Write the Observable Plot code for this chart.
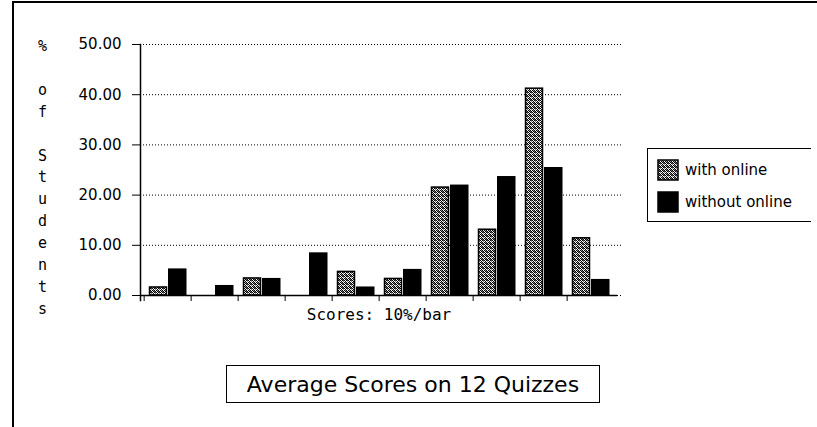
<!DOCTYPE html>
<html><head><meta charset="utf-8">
<script src="https://cdn.jsdelivr.net/npm/d3@7"></script>
<script src="https://cdn.jsdelivr.net/npm/@observablehq/plot@0.6"></script>
<style>
html,body{margin:0;padding:0;background:#fff;overflow:hidden;}
#wrap{position:relative;width:817px;height:427px;overflow:hidden;font-family:"DejaVu Sans",sans-serif;color:#000;}
#ftop{position:absolute;left:12px;top:1px;width:805px;height:2px;background:#000;}
#fleft{position:absolute;left:12px;top:1px;width:2px;height:426px;background:#000;}
#chart{position:absolute;left:0;top:0;}
#legend{position:absolute;left:647px;top:148px;width:163px;height:72px;border:1.5px solid #000;background:#fff;}
.li{position:absolute;left:9px;height:22px;display:flex;align-items:center;font-size:15px;white-space:nowrap;}
.li svg{margin-right:6px;}
#title{position:absolute;left:226px;top:365px;width:372px;height:36px;border:1.5px solid #000;display:flex;align-items:center;justify-content:center;font-size:22px;white-space:nowrap;}
#mask{position:absolute;left:811px;top:4px;width:6px;height:423px;background:#fff;z-index:10;}
</style></head><body>
<div id="wrap"><div id="ftop"></div><div id="fleft"></div><div id="chart"></div>
<div id="legend"></div>
<div id="title"></div>
<div id="mask"></div>
</div>
<script>
// ---- data ----
const groups = ["0-10","10-20","20-30","30-40","40-50","50-60","60-70","70-80","80-90","90-100"];
const seriesNames = ["with online","without online"];
const withOnline    = [1.6, 0, 3.4, 0, 4.7, 3.3, 21.5, 13.1, 41.2, 11.4];
const withoutOnline = [5.3, 2.0, 3.4, 8.5, 1.7, 5.2, 22.0, 23.7, 25.5, 3.2];
const yTicks = [0, 10, 20, 30, 40, 50];
const xLabel = "Scores: 10%/bar";
const yLabel = "%\n\no\nf\n\nS\nt\nu\nd\ne\nn\nt\ns";
const titleText = "Average Scores on 12 Quizzes";

const table = [];
groups.forEach((g, i) => {
  table.push({group: g, series: seriesNames[0], value: withOnline[i]});
  table.push({group: g, series: seriesNames[1], value: withoutOnline[i]});
});

const W = 817, H = 427;
const mL = 140, mR = 200, mT = 44, mB = 132;
const step = (W - mL - mR) / groups.length;

const chart = Plot.plot({
  width: W, height: H,
  marginLeft: mL, marginRight: mR, marginTop: mT, marginBottom: mB,
  style: {fontFamily: "DejaVu Sans, sans-serif", fontSize: "15px", color: "#000", background: "transparent"},
  x: {type: "band", domain: groups, padding: 0},
  y: {domain: [0, 50]},
  marks: [
    Plot.gridY({ticks: yTicks, stroke: "#000", strokeOpacity: 1, strokeDasharray: "1,2", insetRight: -4}),
    Plot.axisY({ticks: yTicks, tickFormat: d3.format(".2f"), tickSize: 8, tickPadding: 11, fontSize: 15, label: null}),
    Plot.axisX({tickSize: 6, tickFormat: () => "", label: null, dx: -step / 2}),
    Plot.barY(table.filter(d => d.series === seriesNames[0] && d.value > 0), {
      x: "group", y: "value", fill: "url(#dither)", stroke: "#000", strokeWidth: 1.5, insetLeft: 5.5, insetRight: 24.5
    }),
    Plot.barY(table.filter(d => d.series === seriesNames[1] && d.value > 0), {
      x: "group", y: "value", fill: "#000", insetLeft: 24, insetRight: 4.5
    }),
    Plot.frame({anchor: "left", stroke: "#000", strokeWidth: 1.5, insetBottom: -5}),
    Plot.ruleY([0], {stroke: "#000", strokeWidth: 1.5}),
    Plot.text([xLabel], {text: d => d, frameAnchor: "bottom", dy: 24, fontFamily: "DejaVu Sans Mono, monospace", fontSize: 16}),
    Plot.text([yLabel], {text: d => d, frameAnchor: "top-left", dx: -98, dy: -9, lineAnchor: "top", lineHeight: 1.46, textAnchor: "middle", fontFamily: "DejaVu Sans Mono, monospace", fontSize: 15})
  ]
});

// dither pattern for the grey series
const ns = "http://www.w3.org/2000/svg";
const defs = document.createElementNS(ns, "defs");
defs.innerHTML = `<pattern id="dither" width="4" height="4" patternUnits="userSpaceOnUse">
<rect width="4" height="4" fill="#fff"/>
<rect x="0" y="0" width="1" height="1" fill="#000"/><rect x="2" y="0" width="1" height="1" fill="#000"/><rect x="3" y="0" width="1" height="1" fill="#555"/>
<rect x="1" y="1" width="1" height="1" fill="#000"/><rect x="3" y="1" width="1" height="1" fill="#777"/>
<rect x="0" y="2" width="1" height="1" fill="#000"/><rect x="2" y="2" width="1" height="1" fill="#000"/><rect x="1" y="2" width="1" height="1" fill="#999"/>
<rect x="1" y="3" width="1" height="1" fill="#000"/><rect x="3" y="3" width="1" height="1" fill="#000"/><rect x="2" y="3" width="1" height="1" fill="#666"/>
</pattern>`;
chart.insertBefore(defs, chart.firstChild);
document.getElementById("chart").appendChild(chart);

// legend
const legend = document.getElementById("legend");
seriesNames.forEach((name, i) => {
  const item = document.createElement("div");
  item.className = "li";
  item.style.top = (10 + i * 32) + "px";
  const fill = i === 0 ? "url(#dither)" : "#000";
  item.innerHTML = `<svg width="22" height="22"><rect x="1" y="1" width="20" height="20" fill="${fill}" stroke="#000" stroke-width="1.5"/></svg><span>${name}</span>`;
  legend.appendChild(item);
});
document.getElementById("title").textContent = titleText;
</script>
</body></html>
